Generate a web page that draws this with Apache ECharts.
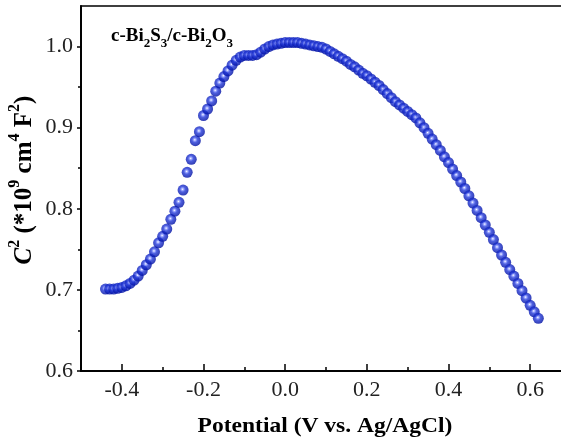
<!DOCTYPE html>
<html>
<head>
<meta charset="utf-8">
<script src="https://cdn.jsdelivr.net/npm/echarts@6/dist/echarts.min.js"></script>
<style>html,body{margin:0;padding:0;background:#fff}#c{width:561px;height:443px}</style>
</head>
<body>
<div id="c"></div>
<script>
// Potential (V vs. Ag/AgCl)
var potential = [
-0.44,-0.43,-0.42,-0.41,-0.40,-0.39,-0.38,-0.37,-0.36,-0.35,-0.34,-0.33,-0.32,-0.31,-0.30,-0.29,-0.28,-0.27,-0.26,-0.25,
-0.24,-0.23,-0.22,-0.21,-0.20,-0.19,-0.18,-0.17,-0.16,-0.15,-0.14,-0.13,-0.12,-0.11,-0.10,-0.09,-0.08,-0.07,-0.06,-0.05,
-0.04,-0.03,-0.02,-0.01,0.00,0.01,0.02,0.03,0.04,0.05,0.06,0.07,0.08,0.09,0.10,0.11,0.12,0.13,0.14,0.15,
0.16,0.17,0.18,0.19,0.20,0.21,0.22,0.23,0.24,0.25,0.26,0.27,0.28,0.29,0.30,0.31,0.32,0.33,0.34,0.35,
0.36,0.37,0.38,0.39,0.40,0.41,0.42,0.43,0.44,0.45,0.46,0.47,0.48,0.49,0.50,0.51,0.52,0.53,0.54,0.55,
0.56,0.57,0.58,0.59,0.60,0.61,0.62];
// C^2 (*10^9 cm^4 F^2)
var cInvSq = [
0.701,0.701,0.701,0.702,0.703,0.705,0.708,0.712,0.717,0.724,0.731,0.738,0.747,0.758,0.766,0.775,0.787,0.797,0.808,0.823,
0.845,0.861,0.884,0.895,0.915,0.923,0.933,0.945,0.955,0.963,0.970,0.977,0.983,0.987,0.989,0.989,0.989,0.990,0.993,0.997,
1.000,1.002,1.003,1.004,1.005,1.005,1.005,1.005,1.004,1.003,1.002,1.001,1.000,0.999,0.997,0.994,0.991,0.988,0.985,0.982,
0.978,0.975,0.971,0.967,0.964,0.960,0.956,0.952,0.947,0.942,0.937,0.932,0.928,0.924,0.920,0.916,0.912,0.906,0.900,0.893,
0.886,0.879,0.872,0.864,0.857,0.849,0.841,0.833,0.825,0.816,0.807,0.798,0.789,0.780,0.771,0.762,0.752,0.743,0.734,0.725,
0.717,0.708,0.699,0.690,0.681,0.673,0.665];

var xMajorTicks = [-0.4,-0.2,0.0,0.2,0.4,0.6];
var xMinorTicks = [-0.5,-0.3,-0.1,0.1,0.3,0.5];
var yMajorTicks = [0.6,0.7,0.8,0.9,1.0];
var yMinorTicks = [0.65,0.75,0.85,0.95];

var data = potential.map(function(v,i){return [v,cInvSq[i]];});

var chart = echarts.init(document.getElementById('c'));
var serif = '"Liberation Serif","Times New Roman",serif';
function xAx(extra){
  return Object.assign({
    type:'value', min:-0.5, max:0.7, position:'bottom',
    axisLine:{show:true,onZero:false,lineStyle:{color:'#000',width:1.6}},
    splitLine:{show:false}
  }, extra);
}
function yAx(extra){
  return Object.assign({
    type:'value', min:0.6, max:1.05, position:'left',
    axisLine:{show:true,onZero:false,lineStyle:{color:'#000',width:1.6}},
    splitLine:{show:false}
  }, extra);
}
chart.setOption({
  animation:false,
  grid:{left:81,top:6,width:490,height:365,outerBoundsMode:'none',containLabel:false,
    show:true,borderColor:'#000',borderWidth:1.6,backgroundColor:'transparent'},
  xAxis:[
    xAx({
      axisTick:{show:true,inside:true,length:7,lineStyle:{color:'#000',width:1.5},customValues:xMajorTicks},
      axisLabel:{show:true,customValues:xMajorTicks,margin:8,color:'#222',fontFamily:serif,fontSize:22,
        formatter:function(v){return v.toFixed(1);}}
    }),
    xAx({
      axisTick:{show:true,inside:true,length:4,lineStyle:{color:'#000',width:1.5},customValues:xMinorTicks},
      axisLabel:{show:false}
    })
  ],
  yAxis:[
    yAx({
      axisTick:{show:true,inside:false,length:4,lineStyle:{color:'#000',width:1.5},customValues:yMajorTicks},
      axisLabel:{show:true,customValues:yMajorTicks,margin:8,color:'#222',fontFamily:serif,fontSize:22,
        formatter:function(v){return v.toFixed(1);}}
    }),
    yAx({
      axisTick:{show:true,inside:false,length:3,lineStyle:{color:'#000',width:1.5},customValues:yMinorTicks},
      axisLabel:{show:false}
    })
  ],
  graphic:[{
    type:'text', left:111, top:27,
    style:{
      text:'{b|c-Bi}{sub|2}{b|S}{sub|3}{b|/c-Bi}{sub|2}{b|O}{sub|3}',
      rich:{
        b:{fontFamily:serif,fontWeight:'bold',fontSize:19,lineHeight:23,verticalAlign:'top',fill:'#000'},
        sub:{fontFamily:serif,fontWeight:'bold',fontSize:13,lineHeight:14,verticalAlign:'bottom',fill:'#000'}
      }
    }
  },{
    type:'text', x:325, y:427, scaleX:1.12,
    style:{
      text:'Potential (V vs. Ag/AgCl)', align:'center', verticalAlign:'middle',
      fontFamily:serif,fontWeight:'bold',fontSize:21,fill:'#000'
    }
  },{
    type:'text', x:22, y:180, rotation:Math.PI/2,
    style:{
      text:'{ci|C}{sup|2}{b| (*10}{sup|9}{b| cm}{sup|4}{b| F}{sup|2}{b|)}',
      align:'center', verticalAlign:'middle',
      rich:{
        ci:{fontFamily:serif,fontWeight:'bold',fontStyle:'italic',fontSize:25,lineHeight:30,verticalAlign:'bottom',fill:'#000'},
        b:{fontFamily:serif,fontWeight:'bold',fontSize:25,lineHeight:30,verticalAlign:'bottom',fill:'#000'},
        sup:{fontFamily:serif,fontWeight:'bold',fontSize:16,lineHeight:18,verticalAlign:'top',fill:'#000'}
      }
    }
  }],
  series:[{
    type:'scatter', xAxisIndex:0, yAxisIndex:0,
    symbol:'circle', symbolSize:11,
    data:data,
    itemStyle:{
      color:new echarts.graphic.RadialGradient(0.45,0.42,0.55,[
        {offset:0,color:'#ffffff'},
        {offset:0.18,color:'#8a98ff'},
        {offset:0.45,color:'#2238d8'},
        {offset:1,color:'#0010a4'}
      ])
    }
  }]
});
</script>
</body>
</html>
